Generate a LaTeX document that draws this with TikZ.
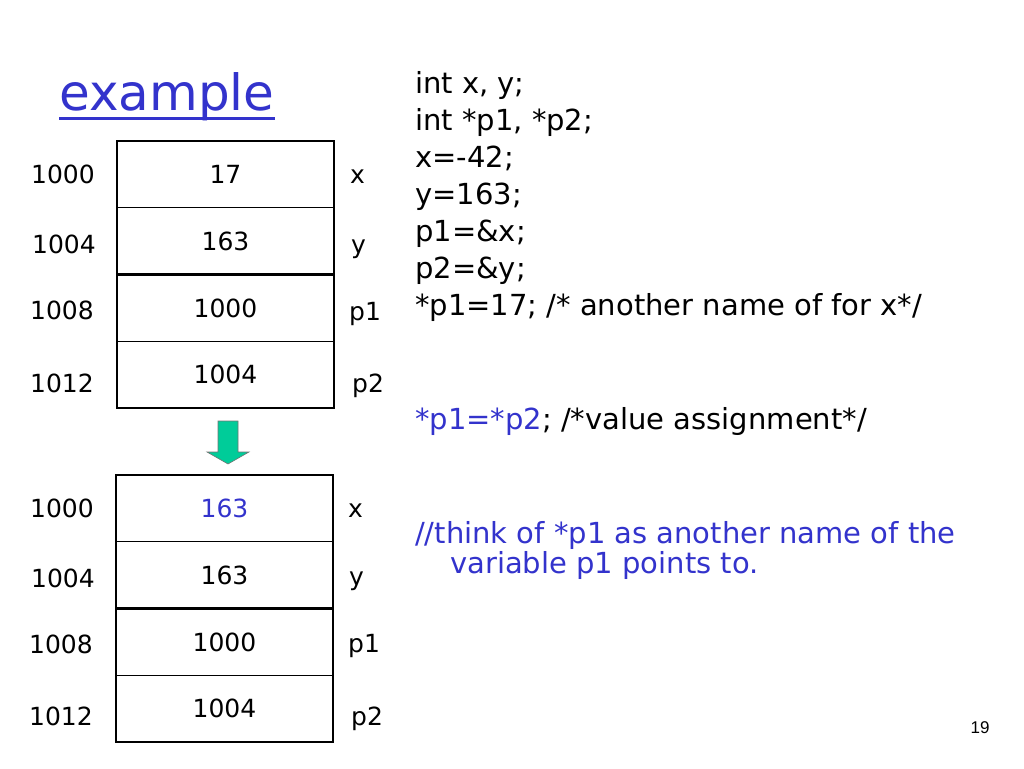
\documentclass[tikz,border=0pt]{standalone}
\usepackage{fontspec}
\setmainfont{DejaVu Sans}
\newfontfamily\pagefont{Liberation Sans}
\usetikzlibrary{positioning}
\definecolor{ink}{RGB}{51,51,204}
\definecolor{arrowgreen}{RGB}{0,204,153}

\begin{document}
\begin{tikzpicture}[x=1pt, y=-1pt, node distance=0pt,
    cell/.style={draw, line width=1.3pt, outer sep=0pt, inner sep=0pt,
      minimum width=217pt, minimum height=66.75pt, font=\fontsize{25}{28}\selectfont},
    addr/.style={inner sep=0pt, anchor=base, font=\fontsize{25}{28}\selectfont},
    var/.style={inner sep=0pt, anchor=base west, font=\fontsize{25}{28}\selectfont},
    code/.style={inner sep=0pt, align=left, font=\fontsize{29}{37}\selectfont}]
    \useasboundingbox (0,0) rectangle (1024,768);

    \node[inner sep=0pt, anchor=base west, text=ink, font=\fontsize{50}{52}\selectfont] (title) at (59,110) {example};
    \draw[ink, line width=3pt] ([yshift=-8pt]title.base west) -- ([yshift=-8pt]title.base east);

    \node[cell] (topx) at (225.5,174.4) {17};
    \node[cell, below=of topx] (topy) {163};
    \node[cell, below=of topy] (topp1) {1000};
    \node[cell, below=of topp1] (topp2) {1004};
    \draw[line width=2.4pt] (topy.south west) -- (topy.south east);

    \node[addr] (topax) at (63,183) {1000};
    \node[addr] (topay) at (64,253) {1004};
    \node[addr] (topap1) at (62,319) {1008};
    \node[addr] (topap2) at (62,392) {1012};

    \node[var] (topvx) at (350,183) {x};
    \node[var] (topvy) at (351,253) {y};
    \node[var] (topvp1) at (349,320) {p1};
    \node[var] (topvp2) at (352,392) {p2};

    \filldraw[fill=arrowgreen, draw=black!55, line width=0.6pt]
        (218,421) -- (238,421) -- (238,452) -- (249,452) -- (228,464)
        -- (207,452) -- (218,452) -- cycle;

    \node[cell, text=ink] (botx) at (224.5,508.4) {163};
    \node[cell, below=of botx] (boty) {163};
    \node[cell, below=of boty] (botp1) {1000};
    \node[cell, below=of botp1] (botp2) {1004};
    \draw[line width=2.4pt] (boty.south west) -- (boty.south east);

    \node[addr] (botax) at (62,517) {1000};
    \node[addr] (botay) at (63,587) {1004};
    \node[addr] (botap1) at (61,653) {1008};
    \node[addr] (botap2) at (61,725) {1012};

    \node[var] (botvx) at (348,517) {x};
    \node[var] (botvy) at (349,585) {y};
    \node[var] (botvp1) at (348,652) {p1};
    \node[var] (botvp2) at (351,725) {p2};

    \node[code, anchor=north west] (prog) at (415,71) {int x, y;\\
        int *p1, *p2;\\
        x=-42;\\
        y=163;\\
        p1=\&x;\\
        p2=\&y;\\
        *p1=17; /* another name of for x*/};
    \node[code, anchor=base west] (assign) at (415,429) {\textcolor{ink}{*p1=*p2}; /*value assignment*/};
    \node[code, anchor=base west, text=ink] (note) at (415,543) {//think of *p1 as another name of the};
    \node[code, anchor=base west, text=ink] (notecont) at (450,573) {variable p1 points to.};

    \node[inner sep=0pt, font=\pagefont\fontsize{17}{20}\selectfont] (page) at (980,728) {19};
\end{tikzpicture}
\end{document}
